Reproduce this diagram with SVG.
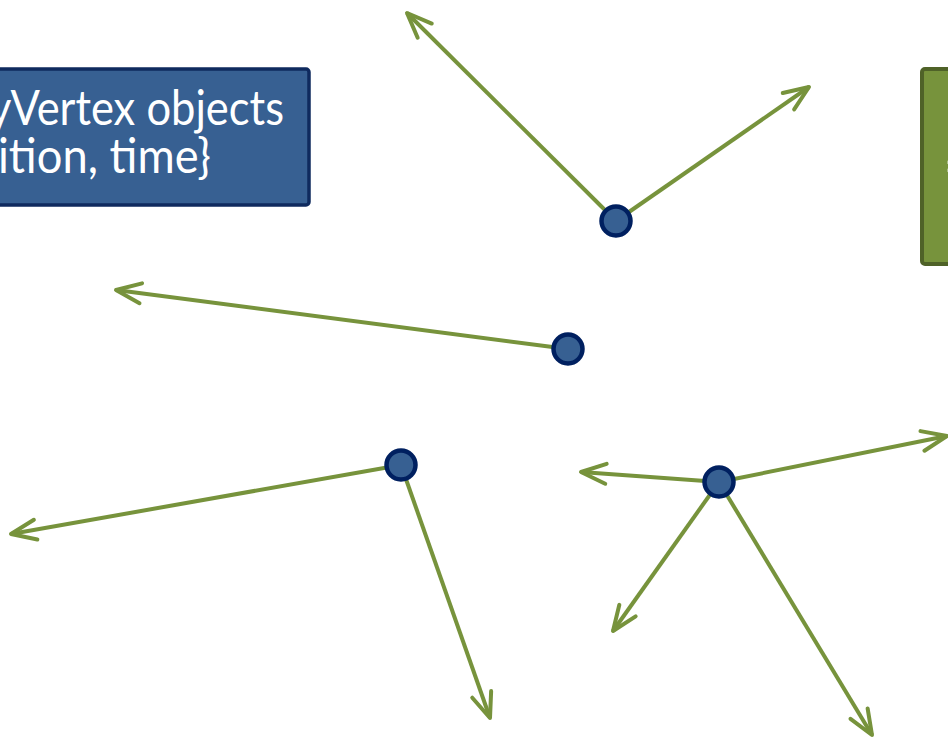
<svg xmlns="http://www.w3.org/2000/svg" width="948" height="738" viewBox="0 0 948 738">
  <style>
    .box-blue { fill: #376092; stroke: #0f2a5e; stroke-width: 3.5; }
    .box-green { fill: #77933c; stroke: #4f6228; stroke-width: 4; }
    .label { fill: #ffffff; font-family: Lato, "Open Sans", "Liberation Sans", sans-serif; font-size: 49px; }
    .edge { fill: none; stroke: #77933c; stroke-width: 4; marker-end: url(#arrow); }
    .vertex { fill: #376092; stroke: #002060; stroke-width: 4.5; }
  </style>
  <defs>
    <marker id="arrow" markerUnits="userSpaceOnUse" orient="auto" refX="0" refY="0" markerWidth="40" markerHeight="40" overflow="visible">
      <path d="M-25,-10 L0,0 L-25,10" fill="none" stroke="#77933c" stroke-width="4" stroke-linecap="round" stroke-linejoin="round"/>
    </marker>
  </defs>

  <rect width="948" height="738" fill="#ffffff"/>

  <!-- info boxes -->
  <g id="vertex-list-box">
    <rect class="box-blue" x="-10" y="69" width="319" height="136" rx="3"/>
    <text class="label" x="-11" y="125" textLength="295" lengthAdjust="spacingAndGlyphs">yVertex objects</text>
    <text class="label" x="-2" y="173" textLength="213" lengthAdjust="spacingAndGlyphs">ition, time}</text>
  </g>
  <g id="side-box">
    <rect class="box-green" x="922" y="69" width="40" height="195" rx="3"/>
    <text class="label" x="944" y="183">=</text>
  </g>

  <!-- edges from each vertex -->
  <g id="connectors">
    <line class="edge" x1="616" y1="221" x2="407" y2="13"/>
    <line class="edge" x1="616" y1="221" x2="809" y2="87"/>
    <line class="edge" x1="568" y1="349" x2="116" y2="290"/>
    <line class="edge" x1="401" y1="465" x2="11" y2="534"/>
    <line class="edge" x1="401" y1="465" x2="490" y2="718"/>
    <line class="edge" x1="719" y1="482" x2="581" y2="472"/>
    <line class="edge" x1="719" y1="482" x2="947" y2="436"/>
    <line class="edge" x1="719" y1="482" x2="613" y2="631"/>
    <line class="edge" x1="719" y1="482" x2="872" y2="735"/>
  </g>

  <!-- vertices -->
  <g id="v1"><circle class="vertex" cx="616" cy="221" r="14.5"/></g>
  <g id="v2"><circle class="vertex" cx="568" cy="349" r="14.5"/></g>
  <g id="v3"><circle class="vertex" cx="401" cy="465" r="14.5"/></g>
  <g id="v4"><circle class="vertex" cx="719" cy="482" r="14.5"/></g>
</svg>
